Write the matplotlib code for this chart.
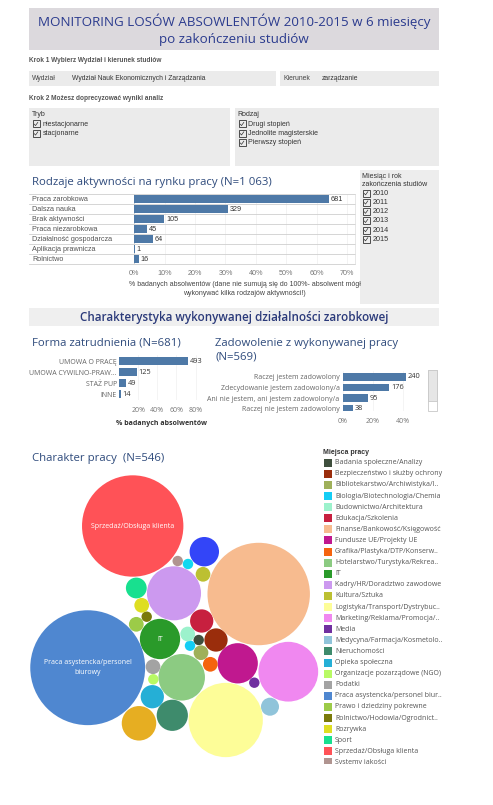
import matplotlib
matplotlib.use("Agg")
import matplotlib.pyplot as plt
from matplotlib.patches import Rectangle, Circle
from matplotlib.transforms import blended_transform_factory
import numpy as np

plt.rcParams['font.family'] = ['Liberation Sans', 'DejaVu Sans']

# ---------------- DATA ----------------
title_lines = ["MONITORING LOSÓW ABSOWLENTÓW 2010-2015 w 6 miesięcy", "po zakończeniu studiów"]
step1_text = "Krok 1 Wybierz Wydział i kierunek studiów"
step2_text = "Krok 2 Możesz doprecyzować wyniki analiz"
wydzial_value = "Wydział Nauk Ekonomicznych i Zarządzania"
kierunek_value = "zarządzanie"
tryb_items = ["niestacjonarne", "stacjonarne"]
rodzaj_items = ["Drugi stopień", "Jednolite magisterskie", "Pierwszy stopień"]
years = ["2010", "2011", "2012", "2013", "2014", "2015"]

activity_labels = ["Praca zarobkowa", "Dalsza nauka", "Brak aktywności", "Praca niezarobkowa",
                   "Działalność gospodarcza", "Aplikacja prawnicza", "Rolnictwo"]
activity_counts = [681, 329, 105, 45, 64, 1, 16]
activity_N = 1063
activity_ticks = [0, 10, 20, 30, 40, 50, 60, 70]

form_labels = ["UMOWA O PRACĘ", "UMOWA CYWILNO-PRAW...", "STAŻ PUP", "INNE"]
form_counts = [493, 125, 49, 14]
form_N = 681
form_ticks = [20, 40, 60, 80]

satisf_labels = ["Raczej jestem zadowolony", "Zdecydowanie jestem zadowolony/a",
                 "Ani nie jestem, ani jestem zadowolony/a", "Raczej nie jestem zadowolony"]
satisf_counts = [240, 176, 95, 38]
satisf_N = 569
satisf_ticks = [0, 20, 40]

job_labels = ["Badania społeczne/Analizy", "Bezpieczeństwo i służby ochrony", "Bibliotekarstwo/Archiwistyka/I..",
              "Biologia/Biotechnologia/Chemia", "Budownictwo/Architektura", "Edukacja/Szkolenia",
              "Finanse/Bankowość/Księgowość", "Fundusze UE/Projekty UE", "Grafika/Plastyka/DTP/Konserw..",
              "Hotelarstwo/Turystyka/Rekrea..", "IT", "Kadry/HR/Doradztwo zawodowe", "Kultura/Sztuka",
              "Logistyka/Transport/Dystrybuc..", "Marketing/Reklama/Promocja/..", "Media",
              "Medycyna/Farmacja/Kosmetolo..", "Nieruchomości", "Opieka społeczna",
              "Organizacje pozarządowe (NGO)", "Podatki", "Praca asystencka/personel biur..",
              "Prawo i dziedziny pokrewne", "Rolnictwo/Hodowla/Ogrodnict..", "Rozrywka", "Sport",
              "Sprzedaż/Obsługa klienta", "Systemy jakości",
              "Telekomunikacja", "Turystyka", "Zarządzanie"]
job_counts = [1, 5, 2, 1, 2, 5, 97, 15, 2, 20, 15, 27, 2, 51, 33, 1, 3, 9, 5, 1, 2, 122, 2, 1, 2, 4, 95, 1,
              8, 1, 11]
job_colors = ["#3f4f3d", "#9a2d0c", "#9fb05a", "#14cdf5", "#9cf2cc", "#c7203f", "#f7bb8f", "#c0188f",
              "#f5640f", "#8ccb82", "#2a9a2a", "#cc99ef", "#bcc032", "#fdfd98", "#f088f0", "#7030a0",
              "#90c4da", "#3e8b6c", "#25afd6", "#b8fa64", "#a3a3a3", "#4f87d0", "#9ccb48", "#7a7a0a",
              "#dede22", "#18e08f", "#ff5257", "#b09490", "#3345f8", "#12d8f0", "#e6ae22"]
# packed bubble centres (layout)
job_x = [198.7, 216, 201, 190, 187.7, 201.7, 258.7, 237.7, 210.3, 181.7, 160, 174, 203, 225.7, 288.3, 254.3,
         270, 172.3, 152.3, 153.3, 153, 87.7, 136.3, 146.7, 141.7, 136.3, 132.7, 177.7, 204.3, 188, 139]
job_y = [640, 640, 652.7, 645.7, 634, 621, 594, 663.3, 664.3, 677.3, 639, 593.3, 574.3, 720, 671.7, 682.7,
         706.7, 715.3, 696.7, 679.3, 666.7, 667.7, 624.3, 616.7, 605.3, 588, 526, 561, 551.7, 564, 723.3]
bubble_text = {"Sprzedaż/Obsługa klienta": "Sprzedaż/Obsługa klienta",
               "Praca asystencka/personel biur..": "Praca asystencka/personel\nbiurowy",
               "IT": "IT"}
legend_visible = 28

# ---------------- STYLE ----------------
W, H = 493, 805
BAR = "#4e79a7"
TITLE_C = "#2f4b7c"
TF = "Open Sans"

fig = plt.figure(figsize=(W / 100, H / 100), dpi=100)
fig.patch.set_facecolor("white")


def px_axes(x0, y0, x1, y1):
    return fig.add_axes([x0 / W, 1 - y1 / H, (x1 - x0) / W, (y1 - y0) / H])


bg = px_axes(0, 0, W, H)
bg.set_xlim(0, W)
bg.set_ylim(H, 0)
bg.axis("off")


def checkbox(x, y, label, fs=5.0):
    bg.add_patch(Rectangle((x, y - 3.5), 7, 7, fill=False, ec="#333333", lw=0.6))
    bg.plot([x + 1.8, x + 3.0, x + 5.3], [y + 0.2, y + 1.6, y - 1.6], color="#333333", lw=0.5)
    bg.text(x + 10, y, label, fontsize=fs, color="#333333", va="center", ha="left")


# title
bg.add_patch(Rectangle((29, 8), 410, 42, color="#dcd9dd", lw=0))
bg.text(234, 21, title_lines[0], ha="center", va="center", fontsize=9.6, color="#2b3b8e", family=TF)
bg.text(234, 39.5, title_lines[1], ha="center", va="center", fontsize=9.6, color="#2b3b8e", family=TF)

# step 1
bg.text(29, 61, step1_text, fontsize=4.7, color="#555555", fontweight="bold", va="center")
bg.add_patch(Rectangle((29, 71), 247, 15, color="#ebebeb", lw=0))
bg.add_patch(Rectangle((280, 71), 159, 15, color="#ebebeb", lw=0))
bg.text(32, 79, "Wydział", fontsize=4.9, color="#444444", va="center")
bg.text(72.5, 78, wydzial_value, fontsize=4.9, color="#333333", va="center")
bg.text(283, 79, "Kierunek", fontsize=4.9, color="#444444", va="center")
bg.text(322, 78, kierunek_value, fontsize=4.9, color="#333333", va="center")

# step 2
bg.text(29, 98, step2_text, fontsize=4.7, color="#555555", fontweight="bold", va="center")
bg.add_patch(Rectangle((29, 108), 201, 58, color="#ebebeb", lw=0))
bg.add_patch(Rectangle((235, 108), 204, 58, color="#ebebeb", lw=0))
bg.text(32, 114.5, "Tryb", fontsize=5.0, color="#333333", va="center")
for i, it in enumerate(tryb_items):
    checkbox(32.5, 124 + 9.5 * i, it)
bg.text(237.5, 114.5, "Rodzaj", fontsize=5.0, color="#333333", va="center")
for i, it in enumerate(rodzaj_items):
    checkbox(238.5, 124 + 9.4 * i, it)

# year panel
bg.add_patch(Rectangle((360, 170), 79, 134, color="#ededed", lw=0))
bg.text(362, 176, "Miesiąc i rok", fontsize=5.0, color="#333333", va="center")
bg.text(362, 185, "zakończenia studiów", fontsize=5.0, color="#333333", va="center")
for i, yv in enumerate(years):
    checkbox(362.5, 193.3 + 9.2 * i, yv, fs=5.2)

# ---------- chart 1: activities ----------
bg.text(32, 182, "Rodzaje aktywności na rynku pracy (N=1 063)", fontsize=8.2, color=TITLE_C,
        family=TF, va="center")
ax1 = px_axes(134.3, 194, 355, 264)
pct1 = [c / activity_N * 100 for c in activity_counts]
ypos1 = np.arange(len(activity_labels)) + 0.5
ax1.barh(ypos1, pct1, height=0.72, color=BAR, zorder=3)
ax1.set_xlim(0, 72.6)
ax1.set_ylim(len(activity_labels), 0)
for y, p, c in zip(ypos1, pct1, activity_counts):
    ax1.text(p + 0.6, y, str(c), fontsize=5.2, color="#333333", va="center", ha="left", zorder=4)
tr1 = blended_transform_factory(ax1.transAxes, ax1.transData)
for y, lab in zip(ypos1, activity_labels):
    ax1.text(-0.4635, y, lab, transform=tr1, fontsize=5.2, color="#555555", va="center", ha="left")
for k in range(len(activity_labels) + 1):
    ax1.axhline(k, xmin=-0.477, xmax=1, color="#cfcfcf", lw=0.6, clip_on=False, zorder=2)
ax1.axvline(0, color="#cfcfcf", lw=0.6, zorder=2)
ax1.set_xticks(activity_ticks)
ax1.set_xticklabels([f"{t}%" for t in activity_ticks])
ax1.tick_params(axis="x", length=0, labelsize=5.2, labelcolor="#777777", pad=4)
ax1.set_yticks([])
ax1.grid(axis="x", color="#eeeeee", lw=0.5, zorder=0)
for s in ax1.spines.values():
    s.set_visible(False)
ax1.spines["right"].set_visible(True)
ax1.spines["right"].set_color("#dddddd")
ax1.spines["right"].set_linewidth(0.5)
ax1.set_xlabel("% badanych absolwentów (dane nie sumują się do 100%- absolwent mógł\n"
               "wykonywać kilka rodzajów aktywności!)", fontsize=5.0, color="#444444", labelpad=3.5,
               linespacing=1.4)

# ---------- section header ----------
bg.add_patch(Rectangle((29, 308), 410, 18.5, color="#efefef", lw=0))
bg.text(234, 317.3, "Charakterystyka wykonywanej działalności zarobkowej", ha="center", va="center",
        fontsize=8.4, color="#2b3a7a", family=TF, fontweight="semibold")

# ---------- chart 2: form of employment ----------
bg.text(32, 343, "Forma zatrudnienia (N=681)", fontsize=8.2, color=TITLE_C, family=TF, va="center")
ax2 = px_axes(119, 355.5, 205, 399.8)
pct2 = [c / form_N * 100 for c in form_counts]
ypos2 = np.arange(len(form_labels)) + 0.5
ax2.barh(ypos2, pct2, height=0.7, color=BAR, zorder=3)
ax2.set_xlim(0, 89.9)
ax2.set_ylim(len(form_labels), 0)
for y, p, c in zip(ypos2, pct2, form_counts):
    ax2.text(p + 1.8, y, str(c), fontsize=5.3, color="#333333", va="center", ha="left", family=TF)
ax2.set_yticks(ypos2)
ax2.set_yticklabels(form_labels, family=TF)
ax2.set_xticks(form_ticks)
ax2.set_xticklabels([f"{t}%" for t in form_ticks], family=TF)
ax2.tick_params(axis="y", length=0, labelsize=5.0, labelcolor="#666666", pad=1.5)
ax2.tick_params(axis="x", length=0, labelsize=5.0, labelcolor="#777777", pad=5.5)
ax2.grid(axis="x", color="#f0f0f0", lw=0.5, zorder=0)
for s in ax2.spines.values():
    s.set_visible(False)
ax2.set_xlabel("% badanych absolwentów", fontsize=5.0, color="#333333", fontweight="bold", labelpad=4,
               family=TF)

# ---------- chart 3: satisfaction ----------
bg.text(215, 343, "Zadowolenie z wykonywanej pracy", fontsize=8.2, color=TITLE_C, family=TF, va="center")
bg.text(215, 357, "(N=569)", fontsize=8.2, color=TITLE_C, family=TF, va="center")
ax3 = px_axes(343, 371.3, 425, 411.5)
pct3 = [c / satisf_N * 100 for c in satisf_counts]
ypos3 = np.arange(len(satisf_labels)) + 0.5
ax3.barh(ypos3, pct3, height=0.72, color=BAR, zorder=3)
ax3.set_xlim(0, 54.7)
ax3.set_ylim((411.5 - 371.3) / 10.77, 0)
for y, p, c in zip(ypos3, pct3, satisf_counts):
    ax3.text(p + 1.2, y, str(c), fontsize=5.3, color="#333333", va="center", ha="left", family=TF,
             clip_on=True)
ax3.set_yticks(ypos3)
ax3.set_yticklabels(satisf_labels, family=TF)
ax3.set_xticks(satisf_ticks)
ax3.set_xticklabels([f"{t}%" for t in satisf_ticks], family=TF)
ax3.tick_params(axis="y", length=0, labelsize=5.0, labelcolor="#666666", pad=2.5)
ax3.tick_params(axis="x", length=0, labelsize=5.0, labelcolor="#777777", pad=5)
ax3.grid(axis="x", color="#f0f0f0", lw=0.5, zorder=0)
for s in ax3.spines.values():
    s.set_visible(False)
# scrollbar
bg.add_patch(Rectangle((427.7, 370), 9.6, 40.7, fc="white", ec="#c8c8c8", lw=0.6))
bg.add_patch(Rectangle((427.7, 370), 9.6, 31, fc="#e6e6e6", ec="#c8c8c8", lw=0.6))

# ---------- bubble chart ----------
bg.text(32, 458, "Charakter pracy  (N=546)", fontsize=8.2, color=TITLE_C, family=TF, va="center")
axb = px_axes(20, 462, 322, 790)
axb.set_xlim(20, 322)
axb.set_ylim(790, 462)
axb.axis("off")
axb.patch.set_alpha(0)
k_r = 5.2
for lab, v, col, x, y in zip(job_labels, job_counts, job_colors, job_x, job_y):
    r = k_r * np.sqrt(v)
    axb.add_patch(Circle((x, y), r, color=col, lw=0, clip_on=False))
    if lab in bubble_text:
        axb.text(x, y, bubble_text[lab], color="white", fontsize=5.0, ha="center", va="center",
                 family=TF, linespacing=1.5)

# ---------- legend ----------
axl = px_axes(318, 445, 493, 763.5)
axl.set_xlim(318, 493)
axl.set_ylim(763.5, 445)
axl.axis("off")
axl.patch.set_alpha(0)
axl.text(323.3, 452.7, "Miejsca pracy", fontsize=5.0, fontweight="bold", color="#333333", va="center")
for i in range(legend_visible):
    yy = 462.7 + 11.1 * i
    axl.add_patch(Rectangle((324.3, yy - 4), 7.7, 8, color=job_colors[i], lw=0, clip_on=True))
    axl.text(335, yy, job_labels[i], fontsize=5.0, color="#555555", va="center", ha="left",
             family=TF, clip_on=True)

fig.savefig("out.png", dpi=100)
